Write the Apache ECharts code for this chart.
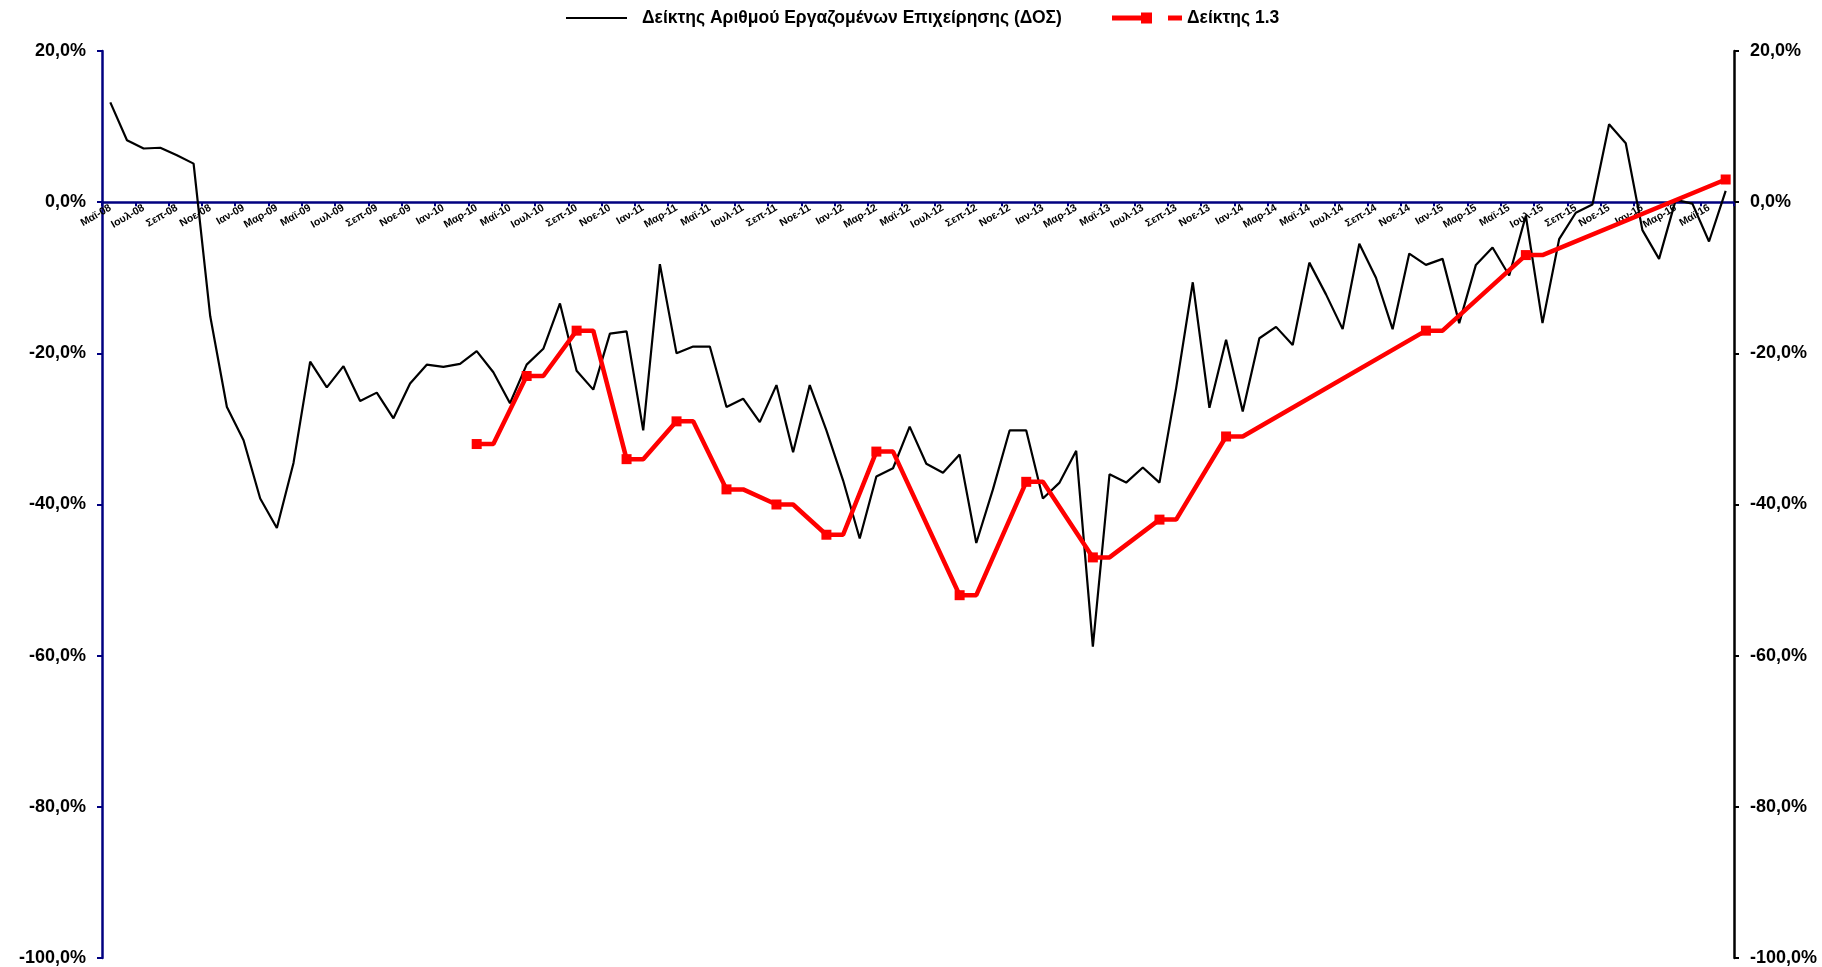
<!DOCTYPE html>
<html>
<head>
<meta charset="utf-8">
<script src="https://cdn.jsdelivr.net/npm/echarts@6/dist/echarts.min.js"></script>
<style>
html, body { margin: 0; padding: 0; background: #fff; }
#main { width: 1822px; height: 967px; }
</style>
</head>
<body>
<div id="main"></div>
<script>
// months Μαϊ-08 ... Ιουν-16
var monthNames = ['Ιαν', 'Φεβ', 'Μαρ', 'Απρ', 'Μαϊ', 'Ιουν', 'Ιουλ', 'Αυγ', 'Σεπ', 'Οκτ', 'Νοε', 'Δεκ'];
var months = [];
for (var y = 2008; y <= 2016; y++) {
  for (var m = 0; m < 12; m++) {
    if (y === 2008 && m < 4) continue;
    if (y === 2016 && m > 5) break;
    months.push(monthNames[m] + '-' + String(y).slice(2));
  }
}

var dosName = 'Δείκτης Αριθμού Εργαζομένων Επιχείρησης (ΔΟΣ)';
var idxName = 'Δείκτης 1.3';

// ΔΟΣ, % (one value per month)
var dosValues = [
  13.2, 8.2, 7.1, 7.2, 6.2, 5.1, -15.1, -27.1, -31.5, -39.2,
  -43.1, -34.5, -21.1, -24.5, -21.7, -26.3, -25.2, -28.6, -24.0, -21.5,
  -21.8, -21.4, -19.7, -22.5, -26.6, -21.5, -19.4, -13.4, -22.3, -24.8,
  -17.4, -17.1, -30.2, -8.2, -20.0, -19.1, -19.1, -27.1, -26.0, -29.1,
  -24.2, -33.1, -24.2, -30.2, -36.8, -44.5, -36.3, -35.2, -29.7, -34.6,
  -35.8, -33.4, -45.1, -38.0, -30.2, -30.2, -39.2, -37.1, -32.9, -58.8,
  -36.0, -37.1, -35.1, -37.1, -24.6, -10.6, -27.2, -18.2, -27.7, -18.0,
  -16.5, -18.9, -8.0, -12.2, -16.8, -5.5, -10.0, -16.8, -6.8, -8.3,
  -7.5, -16.0, -8.3, -6.0, -9.7, -1.8, -16.0, -4.9, -1.4, -0.3,
  10.3, 7.8, -3.7, -7.5, 0.3, -0.2, -5.2, 1.5
];

// Δείκτης 1.3: value at the marked month, held flat for the following month
var idxMonths = ['Μαρ-10', 'Ιουν-10', 'Σεπ-10', 'Δεκ-10', 'Μαρ-11', 'Ιουν-11', 'Σεπ-11', 'Δεκ-11', 'Μαρ-12',
  'Αυγ-12', 'Δεκ-12', 'Απρ-13', 'Αυγ-13', 'Δεκ-13', 'Δεκ-14', 'Ιουν-15', 'Ιουν-16'];
var idxValues = [-32, -23, -17, -34, -29, -38, -40, -44, -33, -52, -37, -47, -42, -31, -17, -7, 3];

var yTicks = { min: -100, max: 20, interval: 20 };

var idxData = months.map(function () { return null; });
idxMonths.forEach(function (mo, k) {
  var i = months.indexOf(mo);
  idxData[i] = { value: idxValues[k] };
  if (i + 1 < months.length) idxData[i + 1] = { value: idxValues[k], symbol: 'none' };
});

var font = 'Liberation Sans';
var pct = function (v) { return v.toFixed(1).replace('.', ',') + '%'; };

var gridTop = 51, gridBottom = 9, H = 967;
var plotH = H - gridTop - gridBottom;
// move the category axis up to the 0% line
var zeroOffset = -plotH * (0 - yTicks.min) / (yTicks.max - yTicks.min);

var chart = echarts.init(document.getElementById('main'));
var option = {
  animation: false,
  backgroundColor: '#fff',
  legend: [
    {
      left: 561, top: 4,
      itemWidth: 71, itemHeight: 10,
      icon: 'path://M0,0M0,10M71,0M71,10M0,4L61,4L61,6L0,6Z',
      itemStyle: { borderWidth: 0 },
      data: [dosName],
      textStyle: { fontFamily: font, fontWeight: 'bold', fontSize: 17.5, color: '#000' }
    },
    {
      left: 1107, top: 4,
      itemWidth: 70, itemHeight: 11,
      icon: 'path://M0,3L29,3L29,0L40,0L40,11L29,11L29,8L0,8Z M56,3L70,3L70,8L56,8Z',
      itemStyle: { borderWidth: 0 },
      data: [idxName],
      textStyle: { fontFamily: font, fontWeight: 'bold', fontSize: 17.5, color: '#000' }
    }
  ],
  grid: { left: 102, right: 88, top: gridTop, bottom: gridBottom },
  xAxis: {
    type: 'category',
    data: months,
    boundaryGap: true,
    position: 'bottom',
    offset: zeroOffset,
    axisLine: { onZero: false, lineStyle: { color: '#000080', width: 2.5 } },
    axisTick: { show: true, interval: 1, length: 4, lineStyle: { color: '#000080', width: 2 } },
    axisLabel: {
      interval: 1, rotate: 30, margin: 5,
      fontFamily: font, fontWeight: 'bold', fontSize: 10.5, color: '#000'
    },
    splitLine: { show: false }
  },
  yAxis: [
    {
      type: 'value', position: 'left',
      min: yTicks.min, max: yTicks.max, interval: yTicks.interval,
      axisLine: { show: true, lineStyle: { color: '#000080', width: 2.5 } },
      axisTick: { show: true, length: 5, lineStyle: { color: '#000080', width: 2 } },
      axisLabel: { formatter: pct, margin: 16, fontFamily: font, fontWeight: 'bold', fontSize: 18, color: '#000' },
      splitLine: { show: false }
    },
    {
      type: 'value', position: 'right',
      min: yTicks.min, max: yTicks.max, interval: yTicks.interval,
      axisLine: { show: true, lineStyle: { color: '#000', width: 2.5 } },
      axisTick: { show: true, length: 5, lineStyle: { color: '#000', width: 2 } },
      axisLabel: { formatter: pct, margin: 16, fontFamily: font, fontWeight: 'bold', fontSize: 18, color: '#000' },
      splitLine: { show: false }
    }
  ],
  series: [
    {
      name: dosName,
      type: 'line',
      data: dosValues,
      symbol: 'none',
      color: '#000',
      lineStyle: { color: '#000', width: 2.2 }
    },
    {
      name: idxName,
      type: 'line',
      data: idxData,
      connectNulls: true,
      showAllSymbol: true,
      symbol: 'rect',
      symbolSize: 10,
      color: '#ff0000',
      itemStyle: { color: '#ff0000', borderWidth: 0 },
      lineStyle: { color: '#ff0000', width: 4.5 }
    }
  ]
};
chart.setOption(option);
</script>
</body>
</html>
